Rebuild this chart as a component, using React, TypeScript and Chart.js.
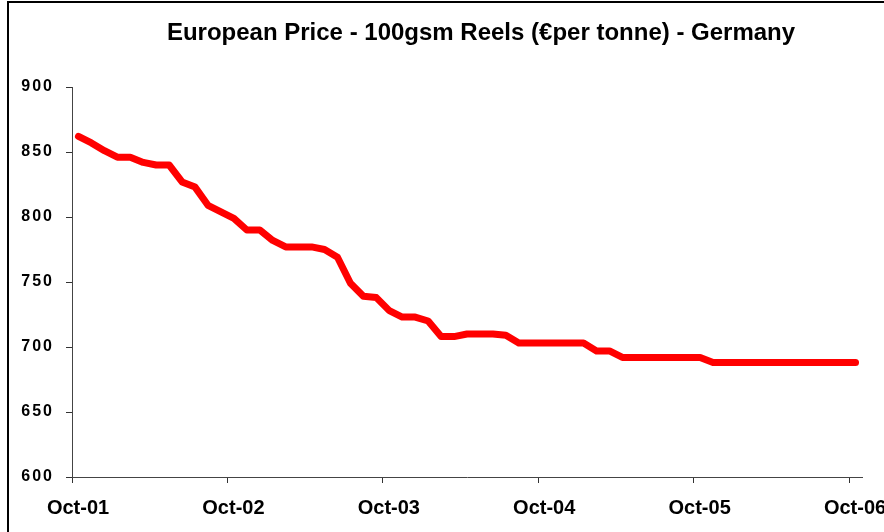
import React, { useEffect, useRef } from "react";
import { Chart, registerables } from "chart.js";

Chart.register(...registerables);

const TITLE = "European Price - 100gsm Reels (€per tonne) - Germany";

// Tick labels on the date axis (one per October)
const yearLabels = ["Oct-01", "Oct-02", "Oct-03", "Oct-04", "Oct-05", "Oct-06"];

// Monthly prices, Oct-01 .. Oct-06 (61 months), € per tonne
const prices = [
  862, 857, 851, 846, 846, 842, 840, 840, 827, 823,
  809, 804, 799, 790, 790, 782, 777, 777, 777, 775,
  769, 749, 739, 738, 728, 723, 723, 720, 708, 708,
  710, 710, 710, 709, 703, 703, 703, 703, 703, 703,
  697, 697, 692, 692, 692, 692, 692, 692, 692, 688,
  688, 688, 688, 688, 688, 688, 688, 688, 688, 688, 688,
];

const yTicks = [600, 650, 700, 750, 800, 850, 900];

const FONT = '"Liberation Sans", Arial, Helvetica, sans-serif';

const titlePlugin = {
  id: "customTitle",
  afterDraw(chart: any) {
    const ctx = chart.ctx;
    ctx.save();
    ctx.font = `bold 24px ${FONT}`;
    ctx.fillStyle = "#000";
    ctx.textAlign = "center";
    ctx.textBaseline = "middle";
    ctx.fillText(TITLE, 481, 33);
    ctx.restore();
  },
};

export default function App() {
  const ref = useRef<HTMLCanvasElement>(null);

  useEffect(() => {
    const canvas = ref.current;
    if (!canvas) return;
    const data = prices.map((v, i) => ({ x: i + 0.5, y: v }));
    const chart = new Chart(canvas, {
      type: "line",
      data: {
        datasets: [
          {
            data,
            borderColor: "#ff0000",
            backgroundColor: "#ff0000",
            borderWidth: 7,
            pointRadius: 0,
            borderCapStyle: "round",
            borderJoinStyle: "round",
            tension: 0,
            fill: false,
          },
        ],
      },
      options: {
        animation: false,
        responsive: false,
        devicePixelRatio: 1,
        layout: { padding: { top: 87, left: 0, right: 22, bottom: 0 } },
        plugins: {
          legend: { display: false },
          title: { display: false },
          tooltip: { enabled: false },
        },
        scales: {
          x: {
            type: "linear",
            min: 0,
            max: 61,
            afterBuildTicks: (scale: any) => {
              scale.ticks = yearLabels.map((_, i) => ({ value: i * 12 }));
            },
            afterFit: (scale: any) => {
              scale.height = 55;
              scale.paddingLeft = 0;
              scale.paddingRight = 0;
            },
            ticks: {
              autoSkip: false,
              maxRotation: 0,
              labelOffset: 6,
              padding: 13,
              color: "#000",
              font: { family: FONT, size: 20, weight: "bold" },
              callback: (v: any) => yearLabels[Math.round(Number(v) / 12)] ?? "",
            },
            grid: {
              drawOnChartArea: false,
              drawTicks: true,
              tickLength: 6,
              tickColor: "#333",
              color: "#333",
            },
            border: { display: true, color: "#444", width: 1 },
          },
          y: {
            min: 600,
            max: 900,
            afterBuildTicks: (scale: any) => {
              scale.ticks = yTicks.map((v) => ({ value: v }));
            },
            afterFit: (scale: any) => {
              scale.width = 72;
              scale.paddingTop = 0;
              scale.paddingBottom = 0;
              if (!scale.__patched) {
                scale.__patched = true;
                const orig = scale.drawLabels.bind(scale);
                scale.drawLabels = (area: any) => {
                  const ctx = scale.ctx;
                  ctx.save();
                  ctx.letterSpacing = "2px";
                  orig(area);
                  ctx.restore();
                };
              }
            },
            ticks: {
              padding: 12,
              color: "#000",
              font: { family: FONT, size: 16, weight: "bold" },
            },
            grid: {
              drawOnChartArea: false,
              drawTicks: true,
              tickLength: 6,
              tickColor: "#333",
              color: "#333",
            },
            border: { display: true, color: "#444", width: 1 },
          },
        },
      },
      plugins: [titlePlugin],
    } as any);
    return () => chart.destroy();
  }, []);

  return (
    <div
      style={{
        position: "fixed",
        left: 0,
        top: 0,
        width: 884,
        height: 532,
        overflow: "hidden",
        background: "#fff",
      }}
    >
      <canvas
        ref={ref}
        width={884}
        height={532}
        style={{ display: "block", width: 884, height: 532 }}
      />
      <div
        style={{
          position: "absolute",
          left: 7,
          top: 1,
          width: 1000,
          height: 1000,
          borderLeft: "2px solid #000",
          borderTop: "2px solid #000",
          pointerEvents: "none",
        }}
      />
    </div>
  );
}
